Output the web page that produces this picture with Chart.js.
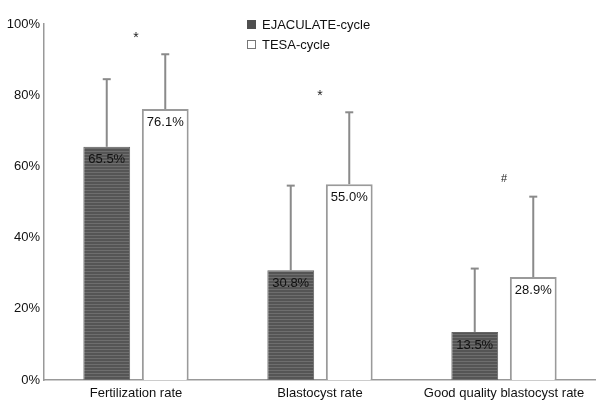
<!DOCTYPE html>
<html><head><meta charset="utf-8">
<script src="https://cdn.jsdelivr.net/npm/chart.js@4/dist/chart.umd.min.js"></script>
<style>html,body{margin:0;padding:0;background:#fff}#wrap{width:596px;height:407px}</style>
</head><body><div id="wrap"><canvas id="c" width="596" height="407"></canvas></div>
<script>
const categories = ["Fertilization rate", "Blastocyst rate", "Good quality blastocyst rate"];
const seriesNames = ["EJACULATE-cycle", "TESA-cycle"];
const ejaculate = [65.5, 30.8, 13.5];
const tesa = [76.1, 55.0, 28.9];
const ejaculateUpper = [84.5, 54.6, 31.3];
const tesaUpper = [91.5, 75.2, 51.5];
const significance = ["*", "*", "#"];
const yTicks = [0, 20, 40, 60, 80, 100];

const FONT = "'Liberation Sans', Arial, sans-serif";

function stripePattern() {
  const pc = document.createElement('canvas');
  pc.width = 4; pc.height = 3;
  const g = pc.getContext('2d');
  g.fillStyle = '#555555'; g.fillRect(0, 0, 4, 3);
  g.fillStyle = '#6e6e6e'; g.fillRect(0, 1, 4, 1);
  return g.createPattern(pc, 'repeat');
}
const ctx = document.getElementById('c').getContext('2d');
const pattern = stripePattern();

const uppers = [ejaculateUpper, tesaUpper];

const extras = {
  id: 'extras',
  afterDatasetsDraw(chart) {
    const c = chart.ctx;
    const y = chart.scales.y;
    c.save();
    chart.data.datasets.forEach((ds, di) => {
      const meta = chart.getDatasetMeta(di);
      meta.data.forEach((bar, i) => {
        const top = y.getPixelForValue(ds.data[i]);
        const up = y.getPixelForValue(uppers[di][i]);
        c.strokeStyle = '#8a8a8a';
        c.lineWidth = 2;
        c.beginPath();
        c.moveTo(bar.x, top); c.lineTo(bar.x, up);
        c.stroke();
        c.beginPath();
        c.moveTo(bar.x - 4, up); c.lineTo(bar.x + 4, up);
        c.stroke();
        c.fillStyle = '#111';
        c.font = '13px ' + FONT;
        c.textAlign = 'center';
        c.textBaseline = 'middle';
        c.fillText(ds.data[i].toFixed(1) + '%', bar.x, top + 13);
      });
    });
    const x = chart.scales.x;
    categories.forEach((cat, i) => {
      const maxUp = Math.max(ejaculateUpper[i], tesaUpper[i]);
      const py = y.getPixelForValue(maxUp) - 18;
      c.fillStyle = '#222';
      c.font = (significance[i] === '*' ? '14px ' : '11px ') + FONT;
      c.textAlign = 'center';
      c.textBaseline = 'middle';
      c.fillText(significance[i], x.getPixelForValue(i), py + (significance[i] === '*' ? 2 : 0));
    });
    const lx = 247, ly0 = 24, lh = 20;
    chart.data.datasets.forEach((ds, di) => {
      const ly = ly0 + di * lh;
      if (di === 0) {
        c.fillStyle = '#4f4f4f';
        c.fillRect(lx, ly - 4, 9, 9);
      } else {
        c.fillStyle = '#fff';
        c.fillRect(lx, ly - 4, 9, 9);
        c.strokeStyle = '#777';
        c.lineWidth = 1;
        c.strokeRect(lx + 0.5, ly - 3.5, 8, 8);
      }
      c.fillStyle = '#111';
      c.font = '13px ' + FONT;
      c.textAlign = 'left';
      c.textBaseline = 'middle';
      c.fillText(ds.label, lx + 15, ly + 1);
    });
    c.restore();
  }
};

new Chart(ctx, {
  type: 'bar',
  data: {
    labels: categories,
    datasets: [
      { label: seriesNames[0], data: ejaculate, backgroundColor: pattern, borderColor: '#666', borderWidth: 1 },
      { label: seriesNames[1], data: tesa, backgroundColor: '#ffffff', borderColor: '#9a9a9a', borderWidth: 2 }
    ]
  },
  options: {
    responsive: false,
    animation: false,
    devicePixelRatio: 1,
    categoryPercentage: 0.636,
    barPercentage: 0.8,
    layout: { padding: { top: 24, left: 0, right: 0, bottom: 0 } },
    plugins: { legend: { display: false }, tooltip: { enabled: false } },
    scales: {
      x: {
        grid: { display: false, drawTicks: false },
        border: { color: '#999', width: 1.5 },
        ticks: { color: '#111', font: { family: FONT, size: 13 }, padding: 6, maxRotation: 0, autoSkip: false },
        afterFit(s) { s.height = 27; }
      },
      y: {
        min: 0, max: 100,
        afterBuildTicks(s) { s.ticks = yTicks.map(v => ({ value: v })); },
        grid: { display: false, drawTicks: false },
        border: { color: '#999', width: 1.5 },
        ticks: { color: '#111', font: { family: FONT, size: 13 }, padding: 4, callback: v => v + '%' },
        afterFit(s) { s.width = 44; }
      }
    }
  },
  plugins: [extras]
});
</script>
</body></html>
